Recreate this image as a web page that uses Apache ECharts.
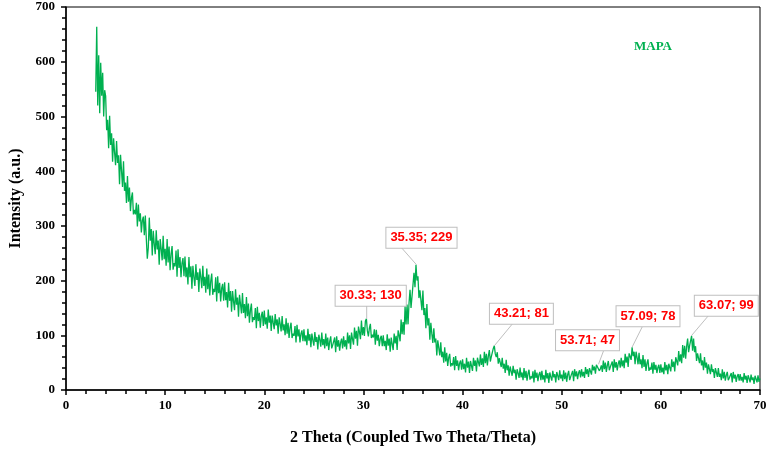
<!DOCTYPE html>
<html>
<head>
<meta charset="utf-8">
<script src="https://cdn.jsdelivr.net/npm/echarts@6/dist/echarts.min.js"></script>
<style>
  html, body { margin: 0; padding: 0; background: #fff; }
  #chart { width: 770px; height: 452px; }
</style>
</head>
<body>
<div id="chart"></div>
<script>
// scan: 2theta from 3 to 70 deg, step 0.1
var thetaStart = 3.0;
var thetaStep = 0.1;

// intensity (a.u.), one row per degree
var intensity = [
  545, 664, 520, 612, 506, 598, 538, 580, 500, 548,
  537, 475, 494, 442, 501, 448, 469, 417, 460, 434,
  411, 455, 415, 429, 376, 430, 401, 371, 418, 364,
  379, 342, 391, 344, 370, 327, 351, 361, 321, 329,
  321, 342, 299, 339, 308, 323, 288, 310, 317, 283,
  319, 277, 240, 260, 315, 273, 294, 246, 291, 267,
  248, 292, 257, 273, 229, 276, 258, 237, 282, 239,
  258, 227, 276, 233, 262, 219, 249, 263, 220, 232,
  226, 255, 207, 257, 223, 243, 206, 232, 241, 208,
  244, 206, 224, 193, 243, 206, 226, 185, 227, 206,
  190, 230, 201, 215, 179, 222, 206, 186, 227, 190,
  207, 178, 222, 184, 211, 173, 199, 213, 174, 185,
  179, 206, 162, 208, 177, 196, 162, 186, 194, 163,
  197, 164, 179, 151, 196, 163, 181, 143, 181, 162,
  146, 184, 156, 169, 134, 174, 157, 140, 177, 141,
  157, 131, 170, 135, 158, 123, 146, 158, 124, 133,
  128, 150, 113, 152, 126, 141, 114, 135, 143, 117,
  145, 120, 133, 112, 147, 123, 136, 108, 136, 123,
  111, 139, 118, 129, 103, 133, 121, 107, 135, 109,
  120, 100, 131, 103, 123, 95, 114, 123, 95, 103,
  99, 117, 87, 119, 98, 111, 87, 103, 109, 89,
  111, 89, 100, 82, 112, 90, 102, 78, 103, 91,
  81, 106, 88, 97, 74, 101, 92, 79, 105, 82,
  93, 76, 103, 80, 96, 73, 89, 98, 76, 82,
  79, 96, 69, 98, 79, 91, 72, 87, 94, 76,
  98, 79, 91, 74, 105, 85, 100, 75, 105, 93,
  83, 114, 94, 108, 81, 116, 106, 93, 127, 100,
  115, 99, 126, 130, 108, 98, 113, 121, 95, 101,
  96, 111, 83, 110, 90, 101, 80, 94, 99, 80,
  100, 80, 90, 73, 102, 81, 94, 70, 96, 84,
  73, 103, 85, 99, 73, 109, 100, 89, 129, 102,
  124, 101, 153, 120, 156, 120, 159, 183, 150, 171,
  174, 214, 188, 229, 200, 208, 168, 182, 183, 146,
  182, 137, 150, 113, 157, 118, 131, 92, 123, 103,
  86, 113, 87, 94, 63, 91, 77, 63, 87, 60,
  70, 50, 78, 52, 68, 44, 59, 66, 43, 49,
  45, 60, 36, 62, 44, 54, 36, 49, 54, 37,
  56, 38, 48, 32, 59, 41, 52, 31, 53, 44,
  35, 59, 44, 54, 34, 59, 51, 43, 65, 46,
  58, 42, 70, 49, 66, 45, 62, 73, 52, 61,
  60, 76, 81, 66, 60, 69, 48, 58, 60, 42,
  59, 39, 48, 31, 55, 36, 45, 26, 43, 34,
  26, 44, 31, 37, 19, 38, 31, 22, 41, 23,
  32, 18, 40, 22, 35, 17, 30, 37, 19, 25,
  21, 34, 14, 37, 22, 32, 16, 28, 33, 18,
  35, 19, 27, 14, 37, 21, 31, 13, 32, 24,
  17, 35, 23, 29, 14, 33, 26, 18, 36, 21,
  28, 16, 36, 20, 32, 15, 28, 35, 18, 24,
  23, 35, 16, 38, 25, 34, 20, 31, 36, 23,
  38, 25, 33, 22, 42, 29, 38, 24, 40, 34,
  28, 46, 36, 43, 30, 46, 43, 47, 35, 39,
  45, 33, 54, 38, 50, 33, 45, 53, 36, 42,
  39, 52, 33, 56, 41, 51, 36, 48, 54, 41,
  59, 43, 54, 40, 66, 50, 61, 42, 67, 61,
  55, 78, 62, 70, 47, 70, 59, 47, 68, 47,
  56, 40, 64, 42, 56, 35, 49, 56, 35, 41,
  37, 50, 30, 51, 37, 46, 31, 41, 46, 31,
  47, 32, 41, 29, 51, 36, 46, 29, 48, 41,
  34, 56, 42, 52, 34, 60, 53, 45, 71, 52,
  65, 49, 82, 59, 81, 57, 80, 94, 69, 81,
  84, 99, 72, 94, 69, 80, 53, 67, 70, 49,
  67, 45, 54, 36, 60, 41, 50, 30, 47, 38,
  29, 47, 33, 38, 22, 40, 32, 24, 40, 24,
  30, 18, 38, 21, 33, 17, 27, 33, 18, 22,
  20, 31, 14, 33, 21, 28, 15, 25, 29, 17,
  29, 17, 24, 14, 31, 19, 26, 13, 27, 21,
  14, 28, 18, 23, 11, 26, 20, 14, 27, 15,
  21
];

// labelled peaks
var peakTheta = [30.33, 35.35, 43.21, 53.71, 57.09, 63.07];
var peakCounts = [130, 229, 81, 47, 78, 99];

var xTicks = [0, 10, 20, 30, 40, 50, 60, 70];
var yTicks = [0, 100, 200, 300, 400, 500, 600, 700];

// callout placement: box centre and leader start, relative to the peak (px)
var calloutOffset = [
  [4, -23, 0, -13],
  [5, -27, -15, -17],
  [27, -32, 19, -23],
  [-11, -24, 6, -16],
  [16, -31, 11, -22],
  [35, -30, 17, -20]
];

var scan = intensity.map(function (v, i) {
  return [+(thetaStart + i * thetaStep).toFixed(2), v];
});

var serif = '"Liberation Serif", "Times New Roman", serif';
var green = '#00b050';

var myChart = echarts.init(document.getElementById('chart'));
myChart.setOption({
  animation: false,
  backgroundColor: '#fff',
  grid: {
    left: 66, right: 10, top: 7, bottom: 62,
    show: true, borderColor: '#000', borderWidth: 1
  },
  title: {
    text: 'MAPA',
    left: 648, top: 42,
    textAlign: 'center', textVerticalAlign: 'middle',
    textStyle: { fontFamily: serif, fontWeight: 'bold', fontSize: 13, color: green }
  },
  xAxis: {
    type: 'value',
    min: xTicks[0], max: xTicks[xTicks.length - 1], interval: 10,
    name: '2 Theta (Coupled Two Theta/Theta)',
    nameLocation: 'middle', nameGap: 40,
    nameTextStyle: { fontFamily: serif, fontWeight: 'bold', fontSize: 16, color: '#000' },
    axisLine: { lineStyle: { color: '#000', width: 1.5 } },
    axisTick: { show: true, length: 5, lineStyle: { color: '#000', width: 1.5 } },
    minorTick: { show: true, splitNumber: 5, length: 4, lineStyle: { color: '#000', width: 1.5 } },
    axisLabel: { margin: 9, fontFamily: serif, fontWeight: 'bold', fontSize: 13, color: '#000' },
    splitLine: { show: false }
  },
  yAxis: {
    type: 'value',
    min: yTicks[0], max: yTicks[yTicks.length - 1], interval: 100,
    name: 'Intensity (a.u.)',
    nameLocation: 'middle', nameGap: 42,
    nameTextStyle: { fontFamily: serif, fontWeight: 'bold', fontSize: 16, color: '#000' },
    axisLine: { show: true, lineStyle: { color: '#000', width: 1.5 } },
    axisTick: { show: true, length: 5, lineStyle: { color: '#000', width: 1.5 } },
    minorTick: { show: true, splitNumber: 5, length: 4, lineStyle: { color: '#000', width: 1.5 } },
    axisLabel: { margin: 11, fontFamily: serif, fontWeight: 'bold', fontSize: 13, color: '#000' },
    splitLine: { show: false }
  },
  series: [{
    name: 'MAPA',
    type: 'line',
    data: scan,
    symbol: 'none',
    lineStyle: { color: green, width: 1.3 },
    silent: true
  }]
});

// callouts with leader lines, anchored to the peaks through the axes
var callouts = [];
peakTheta.forEach(function (t, i) {
  var p = myChart.convertToPixel({ gridIndex: 0 }, [t, peakCounts[i]]);
  var o = calloutOffset[i];
  callouts.push({
    type: 'line',
    shape: { x1: p[0] + o[2], y1: p[1] + o[3], x2: p[0], y2: p[1] },
    style: { stroke: '#bfbfbf', lineWidth: 1 },
    z: 10
  });
  callouts.push({
    type: 'text',
    x: p[0] + o[0], y: p[1] + o[1],
    style: {
      text: t.toFixed(2) + '; ' + peakCounts[i],
      align: 'center', verticalAlign: 'middle',
      font: 'bold 13px "Liberation Sans", Arial, sans-serif',
      fill: '#ff0000',
      backgroundColor: '#fff',
      borderColor: '#bfbfbf', borderWidth: 1,
      padding: [4, 4, 3, 4]
    },
    z: 11
  });
});
myChart.setOption({ graphic: callouts });
</script>
</body>
</html>
